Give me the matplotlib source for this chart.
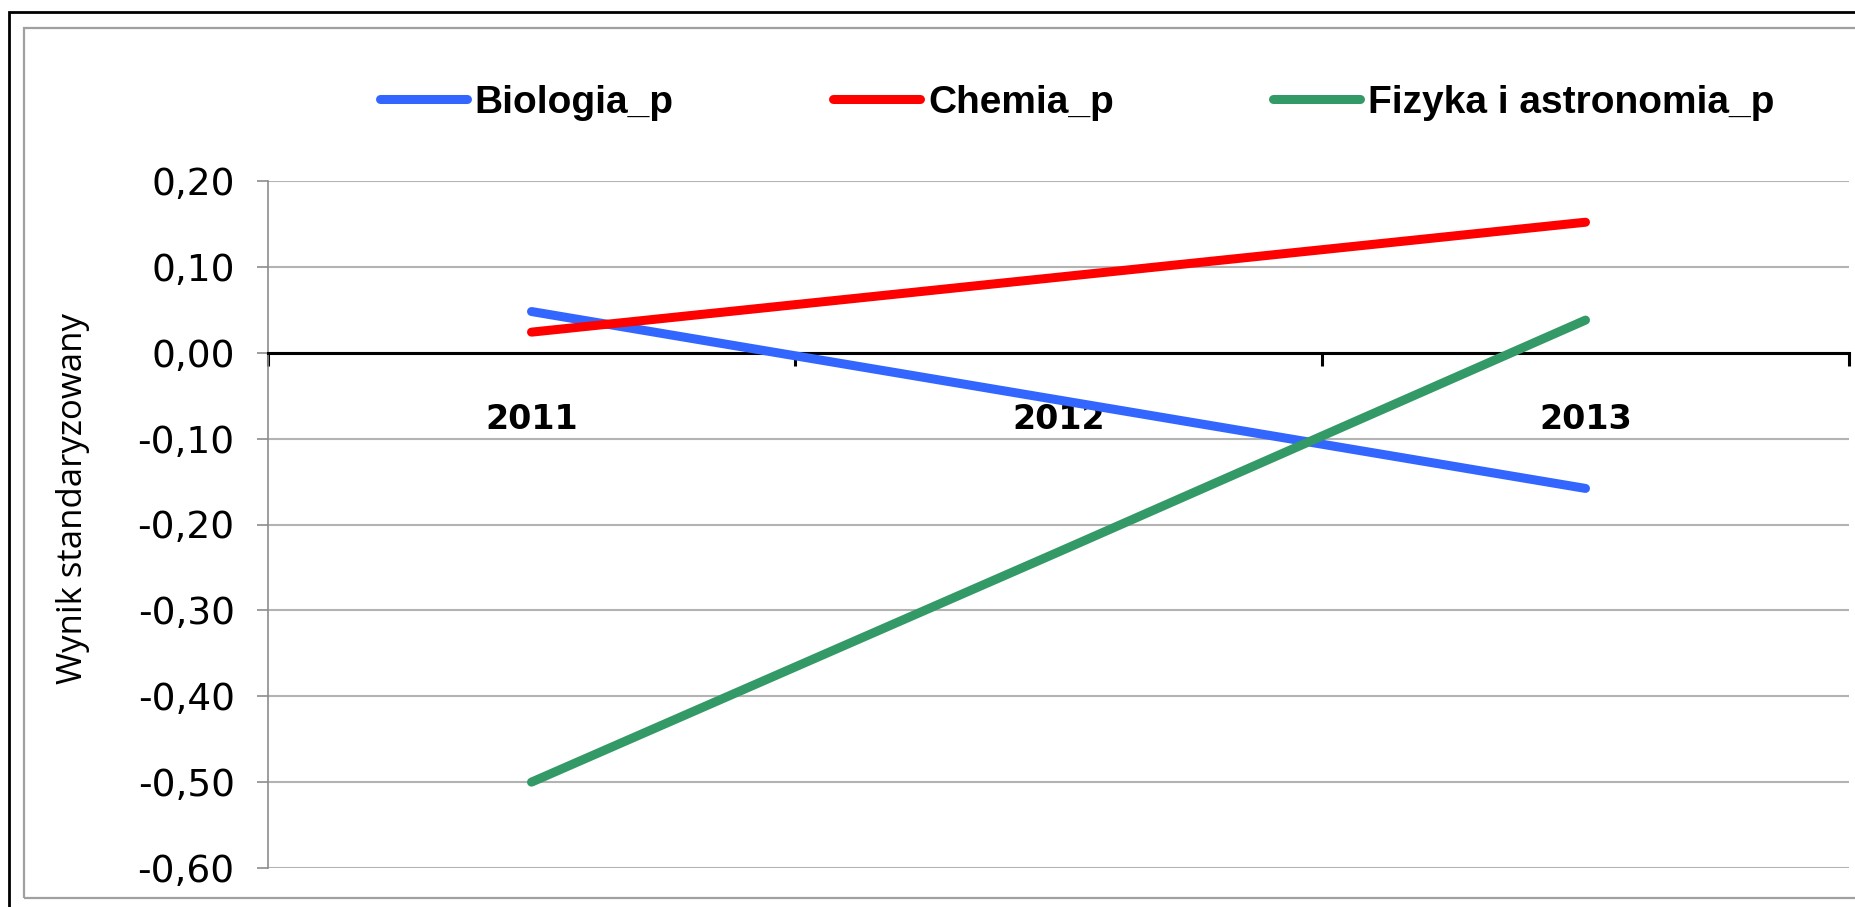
import matplotlib
matplotlib.use('Agg')
import matplotlib.pyplot as plt
from matplotlib.patches import Rectangle

# Data
years = ['2011', '2012', '2013']
biologia = [0.048, -0.055, -0.158]
chemia = [0.024, 0.088, 0.152]
fizyka = [-0.50, -0.232, 0.038]

series_names = ['Biologia_p', 'Chemia_p', 'Fizyka i astronomia_p']
series_colors = ['#3366FF', '#FF0000', '#339966']

y_ticks = [-0.6, -0.5, -0.4, -0.3, -0.2, -0.1, 0.0, 0.1, 0.2]

W, H = 1856, 907
fig = plt.figure(figsize=(W / 100, H / 100), dpi=100)

# outer black frame and inner gray chart-area frame (both run off right edge)
fig.patches.append(Rectangle((9 / W, -0.1), 1.2, 1.1 - 12 / H, transform=fig.transFigure,
                             fill=False, edgecolor='black', lw=2, clip_on=False))
fig.patches.append(Rectangle((24 / W, 1 - 898 / H), 1.2, (898 - 28) / H, transform=fig.transFigure,
                             fill=False, edgecolor='#a0a0a0', lw=1.6, clip_on=False))

ax = fig.add_axes([268 / W, 1 - 868 / H, (1849 - 268) / W, (868 - 181) / H])

centers = [i + 0.5 for i in range(len(years))]
for vals, name, col in zip([biologia, chemia, fizyka], series_names, series_colors):
    ax.plot(centers, vals, color=col, lw=6.5, solid_capstyle='round', label=name, zorder=3)

ax.set_xlim(0, len(years))
ax.set_ylim(-0.6, 0.2)

# y axis
ax.set_yticks(y_ticks)
ax.set_yticklabels([f'{v:.2f}'.replace('.', ',') for v in y_ticks])
ax.yaxis.grid(True, color='#b3b3b3', lw=1.5)
ax.set_axisbelow(True)
ax.tick_params(axis='y', length=8, width=1.2, color='#8c8c8c', pad=16, labelsize=27)

for s in ['top', 'right']:
    ax.spines[s].set_visible(False)
ax.spines['left'].set_color('#8c8c8c')
ax.spines['left'].set_linewidth(1.2)

# category axis sits on zero
ax.spines['bottom'].set_position(('data', 0))
ax.spines['bottom'].set_color('black')
ax.spines['bottom'].set_linewidth(2.2)
ax.spines['bottom'].set_zorder(2.5)
ax.set_xticks(range(len(years) + 1))
ax.set_xticklabels([])
ax.tick_params(axis='x', which='major', direction='out', length=9, width=2.2, color='black')
ax.set_xticks(centers, years, minor=True)
ax.tick_params(axis='x', which='minor', length=0, pad=36, labelsize=24)
for lbl in ax.get_xticklabels(minor=True):
    lbl.set_fontweight('bold')

fig.text(73 / W, 1 - 499 / H, 'Wynik standaryzowany', rotation=90, ha='center', va='center',
         fontsize=25, family='Open Sans')

fig.legend(loc='center', bbox_to_anchor=(1077 / W, 1 - 103 / H), ncol=3, frameon=False,
           prop={'family': 'Liberation Sans', 'weight': 'bold', 'size': 28},
           handlelength=2.24, handletextpad=0.2, columnspacing=4.1)

fig.savefig('out.png', dpi=100)
